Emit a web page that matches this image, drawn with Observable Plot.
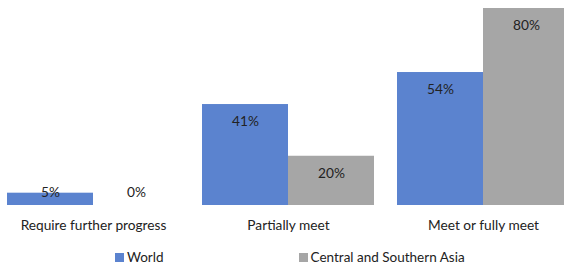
<!DOCTYPE html>
<html><head><meta charset="utf-8">
<script src="https://cdn.jsdelivr.net/npm/d3@7"></script>
<script src="https://cdn.jsdelivr.net/npm/@observablehq/plot@0.6"></script>
<style>
body{margin:0;background:#fff;font-family:Lato,"Open Sans",sans-serif;}
#legend{display:flex;align-items:center;height:28px;font-size:13.5px;color:#222;padding-left:115px;}
.item{display:flex;align-items:center;}
.sw{width:9px;height:9px;margin-right:3px;}
</style></head>
<body>
<div id="chart"></div>
<div id="legend"></div>
<script>
const categories = ["Require further progress", "Partially meet", "Meet or fully meet"];
const series = ["World", "Central and Southern Asia"];
const world = [5, 41, 54];
const csAsia = [0, 20, 80];
const colors = ["#5b83cf", "#a6a6a6"];

const data = [];
categories.forEach((c, i) => {
  data.push({category: c, series: series[0], value: world[i]});
  data.push({category: c, series: series[1], value: csAsia[i]});
});

const chart = Plot.plot({
  width: 564,
  height: 243,
  marginTop: 8,
  marginBottom: 38,
  marginLeft: 0,
  marginRight: 0,
  style: {fontFamily: "Lato, 'Open Sans', sans-serif", fontSize: "13.7px", color: "#222"},
  fx: {domain: categories, range: [-4.5, 580.5], paddingInner: 0.118, paddingOuter: 0.059, label: null, axis: null},
  x: {domain: series, padding: 0, axis: null},
  y: {domain: [0, 80], axis: null},
  color: {domain: series, range: colors},
  marks: [
    Plot.barY(data, {fx: "category", x: "series", y: "value", fill: "series"}),
    Plot.text(data, {fx: "category", x: "series", y: d => Math.max(d.value, 12), dy: 17, text: d => d.value + "%", fill: "#222", fontSize: 13.7}),
    Plot.axisFx({domain: categories, tickSize: 0, tickPadding: 15, fontSize: 13.7, label: null, anchor: "bottom"})
  ]
});
document.getElementById("chart").appendChild(chart);

const legend = document.getElementById("legend");
series.forEach((s, i) => {
  const it = document.createElement("div");
  it.className = "item";
  if (i > 0) it.style.marginLeft = "135px";
  const sw = document.createElement("div");
  sw.className = "sw";
  sw.style.background = colors[i];
  const t = document.createElement("span");
  t.textContent = s;
  it.appendChild(sw); it.appendChild(t);
  legend.appendChild(it);
});
</script>
</body></html>
